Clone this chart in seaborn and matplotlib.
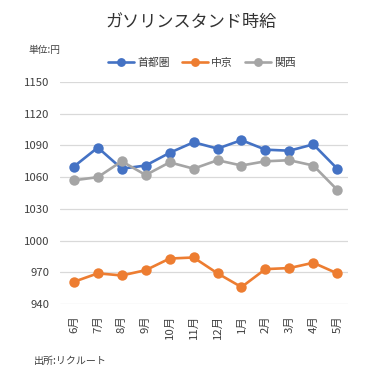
import matplotlib
matplotlib.use("Agg")
import matplotlib.pyplot as plt
import seaborn as sns
import pandas as pd

months = ["6月", "7月", "8月", "9月", "10月", "11月", "12月", "1月", "2月", "3月", "4月", "5月"]
shutoken = [1070, 1088, 1068, 1071, 1083, 1093, 1087, 1095, 1086, 1085, 1091, 1068]
chukyo = [961, 969, 967, 972, 983, 984, 969, 956, 973, 974, 979, 969]
kansai = [1057, 1060, 1075, 1062, 1074, 1068, 1076, 1071, 1075, 1076, 1071, 1048]
series_names = ["首都圏", "中京", "関西"]
yticks = [940, 970, 1000, 1030, 1060, 1090, 1120, 1150]

sns.set_style("white")
plt.rcParams['font.family'] = ['Noto Sans CJK JP', 'DejaVu Sans']

rows = []
for name, vals in zip(series_names, [shutoken, chukyo, kansai]):
    for i, (m, v) in enumerate(zip(months, vals)):
        rows.append({"idx": i, "month": m, "value": v, "series": name})
df = pd.DataFrame(rows)

palette = {"首都圏": "#4472C4", "中京": "#ED7D31", "関西": "#A5A5A5"}

fig = plt.figure(figsize=(3.74, 3.85), dpi=100)
ax = fig.add_axes([60/374, 1-304/385, 288/374, (304-82)/385])
sns.lineplot(data=df, x="idx", y="value", hue="series", palette=palette,
             hue_order=series_names, marker="o", markersize=7.5, linewidth=1.9,
             markeredgewidth=0, ax=ax, legend=True)

ax.set_ylim(940, 1150)
ax.set_yticks(yticks)
ax.set_xlim(-0.58, 11.45)
ax.set_xticks(range(len(months)))
ax.set_xticklabels(months, rotation=90)
ax.tick_params(axis='both', length=0, labelsize=8.2, colors="#404040")
ax.tick_params(axis='x', pad=8)
ax.tick_params(axis='y', pad=7.5)
ax.grid(axis='y', color="#D9D9D9", linewidth=0.9)
ax.set_axisbelow(True)
for s in ax.spines.values():
    s.set_visible(False)
ax.set_xlabel("")
ax.set_ylabel("")

h, l = ax.get_legend_handles_labels()
ax.legend_.remove()
fig.legend(h, l, loc="center", bbox_to_anchor=(0.54, 1-63/385), ncol=3,
           frameon=False, fontsize=7.8, handlelength=2.4, columnspacing=1.1,
           handletextpad=0.3, labelcolor="#404040", markerscale=0.85)

fig.text(0.51, 1-22/385, "ガソリンスタンド時給", ha="center", va="center",
         fontsize=12.3, color="#333333")
fig.text(28/374, 1-50/385, "単位:円", ha="left", va="center", fontsize=7,
         color="#404040")
fig.text(34/374, 1-361/385, "出所:リクルート", ha="left", va="center", fontsize=7.2,
         color="#404040")

fig.savefig("out.png", dpi=100)
